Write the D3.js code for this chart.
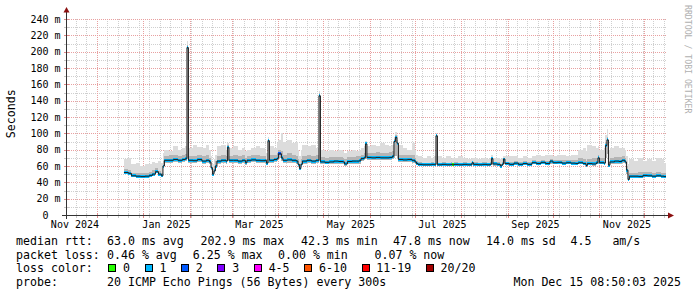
<!DOCTYPE html>
<html>
<head>
<meta charset="utf-8">
<script src="https://cdn.jsdelivr.net/npm/d3@7"></script>
<style>
  body { margin: 0; background: #fff; }
  svg text { font-family: "DejaVu Sans Mono", monospace; white-space: pre; }
</style>
</head>
<body>
<svg id="chart" width="697" height="297"></svg>
<script>
// time window of the graph (last 400 days)
const rangeStart = "2024-11-10 08:50:03";
const rangeEnd = "2025-12-15 08:50:03";

// start of each step, values in ms
const sampleDates = [
  "2024-12-19","2024-12-22","2024-12-24","2024-12-27","2024-12-30",
  "2025-01-02","2025-01-05","2025-01-07","2025-01-09","2025-01-11","2025-01-13","2025-01-14","2025-01-15","2025-01-18","2025-01-21","2025-01-24","2025-01-27","2025-01-29","2025-01-30","2025-01-31",
  "2025-02-03","2025-02-06","2025-02-09","2025-02-12","2025-02-14","2025-02-15","2025-02-16","2025-02-17","2025-02-18","2025-02-19","2025-02-22","2025-02-25","2025-02-26","2025-02-27",
  "2025-03-02","2025-03-05","2025-03-08","2025-03-10","2025-03-11","2025-03-14","2025-03-17","2025-03-20","2025-03-23","2025-03-24","2025-03-25","2025-03-26","2025-03-29","2025-03-31",
  "2025-04-01","2025-04-03","2025-04-04","2025-04-07","2025-04-10","2025-04-13","2025-04-14","2025-04-15","2025-04-16","2025-04-17","2025-04-20","2025-04-23","2025-04-26","2025-04-28","2025-04-29",
  "2025-05-02","2025-05-05","2025-05-08","2025-05-11","2025-05-14","2025-05-15","2025-05-17","2025-05-20","2025-05-23","2025-05-25","2025-05-26","2025-05-28","2025-05-29","2025-05-30",
  "2025-06-02","2025-06-05","2025-06-08","2025-06-11","2025-06-14","2025-06-16","2025-06-17","2025-06-18","2025-06-19","2025-06-20","2025-06-23","2025-06-26","2025-06-29",
  "2025-07-01","2025-07-02","2025-07-03","2025-07-06","2025-07-09","2025-07-12","2025-07-14","2025-07-15","2025-07-16","2025-07-19","2025-07-22","2025-07-25","2025-07-26","2025-07-27","2025-07-30",
  "2025-08-02","2025-08-05","2025-08-08","2025-08-09","2025-08-12","2025-08-15","2025-08-18","2025-08-20","2025-08-21","2025-08-22","2025-08-25","2025-08-27","2025-08-28","2025-08-29","2025-08-30",
  "2025-09-02","2025-09-05","2025-09-08","2025-09-11","2025-09-14","2025-09-17","2025-09-20","2025-09-23","2025-09-26","2025-09-29",
  "2025-10-01","2025-10-04","2025-10-07","2025-10-10","2025-10-13","2025-10-16","2025-10-18","2025-10-21","2025-10-23","2025-10-24","2025-10-27","2025-10-30","2025-10-31",
  "2025-11-01","2025-11-04","2025-11-05","2025-11-06","2025-11-07","2025-11-08","2025-11-11","2025-11-14","2025-11-16","2025-11-18","2025-11-19","2025-11-20","2025-11-21","2025-11-24","2025-11-27","2025-11-30",
  "2025-12-03","2025-12-06","2025-12-09","2025-12-12","2025-12-14"
];

const medianRtt = [
  52, 51, 48, 47.5, 47,
  47.5, 48.5, 50, 53, 50, 48, 60, 67, 67, 68, 67, 68, 69, 205, 67,
  66.5, 68, 66, 67, 65, 58, 50, 54, 60, 66, 67, 66, 83, 67,
  67, 66, 67, 64, 67, 67.5, 67, 66.5, 67, 63.5, 91, 67, 68, 69,
  75, 70, 67, 67.5, 67, 66, 62, 57, 62, 66, 67, 66, 67, 146, 65,
  64.5, 65, 66, 65.5, 65, 62.5, 65.5, 66, 66, 66.5, 69, 70, 87, 70.5,
  70, 70.5, 70, 70, 70.5, 72, 90, 95, 88, 68, 67.5, 68, 67,
  65, 63, 62, 61.5, 61.5, 62, 61.5, 97, 61.5, 62, 61.5, 62, 61.5, 62, 61.5,
  62, 61.5, 64, 62, 61.5, 62, 61.5, 62, 69, 62.5, 62, 60, 62, 68.5, 63,
  62, 63.5, 62, 63, 62, 64, 63, 64.5, 63, 66,
  64, 64.5, 63.5, 64, 63.5, 63, 64, 63, 60.5, 63, 62.5, 64, 70,
  64, 63.5, 85, 92, 61, 65, 66, 65.5, 67, 65, 55, 43.5, 47.5, 47.5, 47, 48.5,
  48, 47.5, 48, 47.5, 47
];

// lowest ping of the step
const smokeLow = [
  50, 49, 46.5, 46, 45.5,
  46, 47, 48, 51, 48, 46.5, 57, 64, 64, 65, 64, 65, 66, 70, 64,
  64, 65, 63, 64, 62, 55, 48, 52, 57, 63, 64, 63, 66, 64,
  64, 63, 64, 61, 64, 65, 64, 64, 64, 61, 64, 64, 65, 66,
  70, 66, 64, 64, 64, 63, 59, 55, 59, 63, 64, 63, 64, 66, 62,
  62, 62, 63, 63, 62, 60, 63, 63, 63, 63, 66, 67, 68, 67,
  67, 67, 67, 67, 67, 68, 70, 72, 70, 65, 65, 65, 64,
  62, 61, 60, 60, 60, 60, 60, 62, 60, 60, 60, 60, 60, 60, 60,
  60, 60, 61, 60, 60, 60, 60, 60, 61, 60, 60, 58.5, 60, 62, 61,
  60, 61, 60, 61, 60, 62, 61, 62, 61, 63,
  62, 62, 61, 62, 61, 61, 62, 61, 58.5, 61, 60, 62, 63,
  62, 61, 70, 75, 59, 62, 63, 63, 64, 62, 50, 42, 45, 45, 45, 46,
  46, 45, 46, 45, 45
];

// upper edge of the dense smoke
const smokeMid = [
  56, 55, 52, 51, 51,
  52, 53, 55, 57, 54, 52, 66, 72, 73, 74, 72, 74, 75, 208, 72,
  72, 74, 72, 73, 70, 64, 56, 60, 66, 72, 73, 72, 86, 72,
  73, 72, 73, 70, 72, 73, 73, 72, 72, 68, 93, 73, 74, 76,
  80, 78, 74, 76, 74, 72, 68, 62, 68, 72, 73, 72, 73, 149, 71,
  70, 71, 71, 71, 70, 68, 71, 71, 72, 72, 74, 76, 89, 76,
  76, 77, 76, 76, 77, 78, 93, 98, 92, 74, 73, 74, 74,
  70, 66, 65, 64, 64, 64.5, 64, 99, 64, 64.5, 64, 64.5, 64, 64.5, 64,
  64.5, 64, 66, 64.5, 64, 64.5, 64, 65, 71, 65, 64.5, 63, 65, 70, 65.5,
  64.5, 66, 65, 66, 65, 67, 66, 67, 66, 69,
  67, 67.5, 67, 67, 67, 67, 70, 69, 66, 69, 70, 70, 74,
  70, 70, 90, 96, 66, 70, 71, 71, 72, 70, 60, 50, 52, 52, 53, 53,
  53, 52, 53, 52, 51
];

// highest ping of the step
const smokeHigh = [
  68, 70, 62, 64, 60,
  63, 62, 65, 64, 66, 64, 76, 80, 78, 84, 80, 82, 84, 213, 82,
  86, 83, 82, 86, 80, 72, 62, 68, 74, 84, 86, 80, 88, 82,
  84, 80, 82, 78, 80, 82, 84, 82, 80, 76, 95, 84, 82, 88,
  92, 100, 90, 92, 88, 90, 80, 72, 80, 86, 84, 86, 82, 152, 80,
  78, 80, 78, 80, 78, 76, 78, 80, 78, 80, 82, 84, 91, 84,
  86, 84, 88, 86, 84, 86, 96, 102, 98, 86, 82, 80, 88,
  80, 74, 72, 70, 72, 70, 72, 100, 72, 70, 72, 68, 70, 70, 72,
  70, 68, 70, 70, 68, 70, 68, 70, 74, 70, 70, 68, 70, 72, 72,
  72, 72, 70, 72, 70, 72, 74, 72, 74, 74,
  72, 74, 74, 72, 74, 74, 80, 82, 78, 86, 84, 82, 84,
  80, 82, 98, 105, 80, 82, 84, 82, 82, 80, 72, 62, 68, 66, 70, 66,
  68, 66, 70, 68, 64
];

// index into lossLabels / lossColors
const lossBucket = [
  1, 1, 1, 1, 1,
  1, 1, 1, 1, 1, 1, 1, 1, 1, 1, 1, 1, 1, 1, 1,
  1, 1, 1, 1, 1, 1, 1, 1, 1, 1, 1, 1, 1, 1,
  1, 1, 1, 1, 1, 1, 1, 1, 1, 1, 1, 1, 1, 1,
  2, 1, 1, 1, 1, 1, 1, 1, 1, 1, 1, 1, 1, 1, 1,
  1, 1, 1, 1, 1, 1, 1, 1, 1, 1, 1, 1, 1, 1,
  1, 1, 1, 1, 1, 1, 1, 1, 1, 1, 1, 1, 1,
  1, 1, 1, 1, 1, 1, 1, 1, 1, 1, 1, 1, 0, 1, 1,
  1, 1, 1, 1, 1, 1, 1, 1, 1, 1, 1, 1, 1, 1, 1,
  1, 1, 1, 1, 1, 1, 1, 1, 1, 1,
  1, 1, 1, 1, 1, 1, 1, 1, 1, 1, 1, 1, 1,
  1, 1, 1, 1, 1, 1, 1, 1, 1, 1, 1, 1, 1, 1, 1, 1,
  1, 1, 1, 1, 1
];

const yTicks = [0, 20, 40, 60, 80, 100, 120, 140, 160, 180, 200, 220, 240];
const xLabelDates = ["2024-11-16", "2025-01-16", "2025-03-19", "2025-05-19", "2025-07-19", "2025-09-19", "2025-11-19"];

const lossLabels = ["0", "1", "2", "3", "4-5", "6-10", "11-19", "20/20"];
const lossColors = ["#26ff00", "#00b8ff", "#0059ff", "#7e00ff", "#ff00ff", "#ff5500", "#ff0000", "#a10000"];

const rttLegend = ["median rtt:", "63.0 ms avg", "202.9 ms max", "42.3 ms min", "47.8 ms now", "14.0 ms sd", "4.5   am/s"];
const lossLegend = ["packet loss:", "0.46 % avg", "6.25 % max", "0.00 % min", "0.07 % now"];
const probeLegend = ["probe:", "20 ICMP Echo Pings (56 Bytes) every 300s"];
const stampText = "Mon Dec 15 08:50:03 2025";

// layout
const rttX = [16, 107, 200.5, 301, 393, 486, 570.5];
const lossX = [16, 107, 192.8, 278, 374.5];

const svg = d3.select("#chart");
svg.append("rect").attr("width", 697).attr("height", 297).attr("fill", "#fff");

const parseDay = d3.utcParse("%Y-%m-%d");
const parseStamp = d3.utcParse("%Y-%m-%d %H:%M:%S");
const tStart = parseStamp(rangeStart);
const tEnd = parseStamp(rangeEnd);

const x = d3.scaleUtc().domain([tStart, tEnd]).range([66, 666]);
const y = d3.scaleLinear().domain([0, 240]).range([215, 19]);
const px = v => Math.round(v) + 0.5;

// grid (drawn under the data, like rrdtool)
const grid = svg.append("g")
  .attr("stroke-dasharray", "1,1")
  .attr("shape-rendering", "crispEdges");

const minorY = y.ticks(24).filter(v => !yTicks.includes(v));
grid.selectAll(".hminor").data(minorY).enter().append("line")
  .attr("x1", 67).attr("x2", 666)
  .attr("y1", d => px(y(d))).attr("y2", d => px(y(d)))
  .attr("stroke", "#cfcfcf");

const weeks = d3.utcSunday.range(tStart, tEnd);
grid.selectAll(".vminor").data(weeks).enter().append("line")
  .attr("x1", d => px(x(d))).attr("x2", d => px(x(d)))
  .attr("y1", 19).attr("y2", 215)
  .attr("stroke", "#cfcfcf");

grid.selectAll(".hmajor").data(yTicks.filter(v => v > 0)).enter().append("line")
  .attr("x1", 67).attr("x2", 666)
  .attr("y1", d => px(y(d))).attr("y2", d => px(y(d)))
  .attr("stroke", "#e8a0a0");

const months = d3.utcMonth.range(tStart, tEnd);
grid.selectAll(".vmajor").data(months).enter().append("line")
  .attr("x1", d => px(x(d))).attr("x2", d => px(x(d)))
  .attr("y1", 19).attr("y2", 215)
  .attr("stroke", "#e8a0a0");

// steps
const steps = sampleDates.map((d, i) => ({
  t0: parseDay(d),
  t1: i + 1 < sampleDates.length ? parseDay(sampleDates[i + 1]) : tEnd,
  med: medianRtt[i],
  lo: smokeLow[i],
  mid: smokeMid[i],
  hi: smokeHigh[i],
  loss: lossBucket[i]
}));

const plot = svg.append("g").attr("shape-rendering", "crispEdges");

// smoke
plot.selectAll(".smoke").data(steps).enter().append("rect")
  .attr("x", d => x(d.t0))
  .attr("width", d => x(d.t1) - x(d.t0))
  .attr("y", d => y(d.hi))
  .attr("height", d => y(d.lo) - y(d.hi))
  .attr("fill", "#dcdcdc");

plot.selectAll(".smoke2").data(steps).enter().append("rect")
  .attr("x", d => x(d.t0))
  .attr("width", d => x(d.t1) - x(d.t0))
  .attr("y", d => y(d.mid))
  .attr("height", d => y(d.lo) - y(d.mid))
  .attr("fill", "#b4b4b4");

// median line (black), then loss coloured band over it
const medPts = steps.map(d => [d.t0, d.med]);
medPts.push([tEnd, steps[steps.length - 1].med]);
svg.append("path")
  .datum(medPts)
  .attr("fill", "none")
  .attr("stroke", "#202020")
  .attr("stroke-width", 1)
  .attr("d", d3.line().x(d => x(d[0])).y(d => y(d[1])).curve(d3.curveStepAfter));

plot.selectAll(".band").data(steps).enter().append("rect")
  .attr("x", d => x(d.t0))
  .attr("width", d => x(d.t1) - x(d.t0))
  .attr("y", d => y(d.med) - 1.5)
  .attr("height", 3)
  .attr("fill", d => lossColors[d.loss]);

// axes
const axisColor = "#333333";
const tickG = svg.append("g").attr("shape-rendering", "crispEdges");
tickG.selectAll(".xt").data(weeks).enter().append("line")
  .attr("x1", d => px(x(d))).attr("x2", d => px(x(d)))
  .attr("y1", 214).attr("y2", 218).attr("stroke", "#c8c8c8");
tickG.selectAll(".xT").data(months).enter().append("line")
  .attr("x1", d => px(x(d))).attr("x2", d => px(x(d)))
  .attr("y1", 213).attr("y2", 218).attr("stroke", "#e08a8a");
tickG.selectAll(".yt").data(y.ticks(24)).enter().append("line")
  .attr("x1", 64).attr("x2", 69)
  .attr("y1", d => px(y(d))).attr("y2", d => px(y(d)))
  .attr("stroke", d => yTicks.includes(d) ? "#e08a8a" : "#c8c8c8");

svg.append("line").attr("x1", 62).attr("x2", 670).attr("y1", 215.5).attr("y2", 215.5)
  .attr("stroke", axisColor).attr("shape-rendering", "crispEdges");
svg.append("line").attr("x1", 66.5).attr("x2", 66.5).attr("y1", 219).attr("y2", 11)
  .attr("stroke", axisColor).attr("shape-rendering", "crispEdges");
svg.append("path").attr("d", "M668,212.5L674,215.5L668,218.5Z").attr("fill", "#8b1010");
svg.append("path").attr("d", "M63.5,12.5L66.5,7L69.5,12.5Z").attr("fill", "#8b1010");

const yAxis = d3.axisLeft(y)
  .tickValues(yTicks)
  .tickFormat(v => v === 0 ? "0  " : `${v} m`)
  .tickSize(0)
  .tickPadding(6);
const yG = svg.append("g").attr("transform", "translate(66.5,0)").call(yAxis);
yG.select(".domain").remove();
yG.selectAll("text")
  .attr("xml:space", "preserve")
  .style("font-family", "'DejaVu Sans Mono', monospace")
  .style("font-size", "10px")
  .attr("fill", "#000");

const xAxis = d3.axisBottom(x)
  .tickValues(xLabelDates.map(parseDay))
  .tickFormat(d3.utcFormat("%b %Y"))
  .tickSize(0)
  .tickPadding(6);
const xG = svg.append("g").attr("transform", "translate(0,215)").call(xAxis);
xG.select(".domain").remove();
xG.selectAll("text")
  .style("font-family", "'DejaVu Sans Mono', monospace")
  .style("font-size", "10px")
  .attr("fill", "#000");

// titles
svg.append("text")
  .attr("transform", "translate(15,113.7) rotate(-90)")
  .attr("text-anchor", "middle")
  .style("font-size", "11.6px")
  .text("Seconds");

svg.append("text")
  .attr("transform", "translate(685,5) rotate(90)")
  .style("font-size", "8.2px")
  .attr("fill", "#b0b0b0")
  .text("RRDTOOL / TOBI OETIKER");

// legend
const legend = svg.append("g").style("font-size", "11.6px").attr("fill", "#000");

legend.selectAll(".rtt").data(rttLegend).enter().append("text")
  .attr("xml:space", "preserve")
  .attr("x", (d, i) => rttX[i]).attr("y", 245)
  .text(d => d);

legend.selectAll(".loss").data(lossLegend).enter().append("text")
  .attr("xml:space", "preserve")
  .attr("x", (d, i) => lossX[i]).attr("y", 258.5)
  .text(d => d);

legend.append("text").attr("x", 16).attr("y", 272).text("loss color:");
let cx = 108.3;
lossLabels.forEach((lab, i) => {
  legend.append("rect")
    .attr("x", Math.round(cx) + 0.5).attr("y", 264.5)
    .attr("width", 7).attr("height", 7)
    .attr("fill", lossColors[i]).attr("stroke", "#000");
  const t = legend.append("text").attr("x", cx + 14.8).attr("y", 272).text(lab);
  cx = cx + 14.8 + t.node().getComputedTextLength() + 14.6;
});

legend.append("text").attr("x", 16).attr("y", 285.5).text(probeLegend[0]);
legend.append("text").attr("x", 107).attr("y", 285.5).text(probeLegend[1]);
legend.append("text").attr("x", 681).attr("y", 285.5).attr("text-anchor", "end").text(stampText);
</script>
</body>
</html>
